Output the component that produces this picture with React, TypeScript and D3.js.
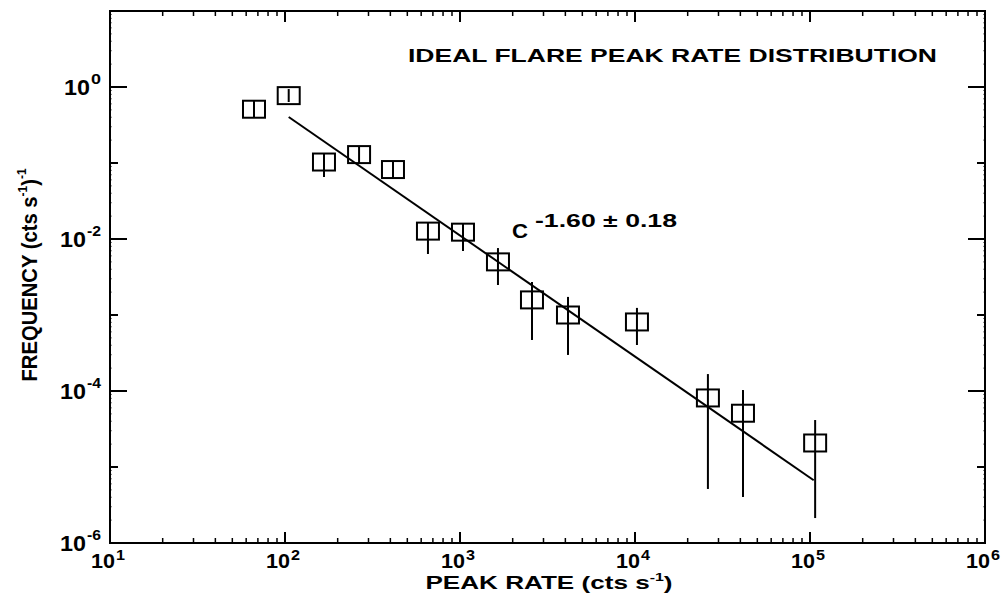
import React from "react";
import * as d3 from "d3";

const peakRate = [66.5, 105, 167, 265, 414, 656, 1040, 1648, 2578, 4140, 10260, 26100, 41400, 107000];
const frequency = [0.51, 0.77, 0.103, 0.129, 0.082, 0.0127, 0.0123, 0.005, 0.00158, 0.001, 0.00081, 8.1e-5, 5.1e-5, 2.07e-5];
const errHigh = [0.674, 0.94, 0.135, 0.167, 0.106, 0.0167, 0.01625, 0.0076, 0.00272, 0.00173, 0.00124, 0.000167, 0.000103, 4.15e-5];
const errLow = [0.391, 0.635, 0.0654, 0.1, 0.0635, 0.00635, 0.00695, 0.00248, 0.000469, 0.000298, 0.000403, 5.14e-6, 4.03e-6, 2.13e-6];

const fitX = [105, 105000];
const fitY = [0.403, 6.7e-6];

const xDecades = [1, 2, 3, 4, 5, 6];
const yDecades = [-6, -5, -4, -3, -2, -1, 0, 1];
const yLabelExps = [0, -2, -4, -6];

const W = 1007, H = 597;
const L = 110, R = 985, T = 11, B = 543;
const FONT = "'Liberation Sans', Arial, Helvetica, sans-serif";

export default function App() {
  const x = d3.scaleLog().domain([10, 1e6]).range([L, R]);
  const y = d3.scaleLog().domain([1e-6, 10]).range([B, T]);

  const xMinor: number[] = [];
  for (let e = 1; e < 6; e++) for (let m = 2; m <= 9; m++) xMinor.push(m * Math.pow(10, e));
  const yMinor: number[] = [];
  for (let e = -6; e < 1; e++) for (let m = 2; m <= 9; m++) yMinor.push(m * Math.pow(10, e));

  const line = d3.line<number>().x((d, i) => x(fitX[i])).y((d, i) => y(fitY[i]));
  const bw = 22, bh = 17;

  return (
    <svg width={W} height={H} style={{ position: "absolute", left: 0, top: 0, background: "#fff" }} fontFamily={FONT} fontWeight="bold">
      <rect x={0} y={0} width={W} height={H} fill="#fff" />
      {/* frame */}
      <rect x={L} y={T} width={R - L} height={B - T} fill="none" stroke="#000" strokeWidth={2} />
      {/* x ticks */}
      {xDecades.map((e) => {
        const px = x(Math.pow(10, e));
        return (
          <g key={"xd" + e}>
            <line x1={px} x2={px} y1={B} y2={B - 11} stroke="#000" strokeWidth={2} />
            <line x1={px} x2={px} y1={T} y2={T + 11} stroke="#000" strokeWidth={2} />
          </g>
        );
      })}
      {xMinor.map((v) => (
        <g key={"xm" + v}>
          <line x1={x(v)} x2={x(v)} y1={B} y2={B - 5} stroke="#000" strokeWidth={1.5} />
          <line x1={x(v)} x2={x(v)} y1={T} y2={T + 5} stroke="#000" strokeWidth={1.5} />
        </g>
      ))}
      {/* y ticks */}
      {yDecades.map((e) => {
        const py = y(Math.pow(10, e));
        const len = e % 2 === 0 ? 17 : 8;
        return (
          <g key={"yd" + e}>
            <line x1={L} x2={L + len} y1={py} y2={py} stroke="#000" strokeWidth={2} />
            <line x1={R} x2={R - len} y1={py} y2={py} stroke="#000" strokeWidth={2} />
          </g>
        );
      })}
      {yMinor.map((v) => (
        <g key={"ym" + v}>
          <line x1={L} x2={L + 2} y1={y(v)} y2={y(v)} stroke="#000" strokeWidth={1} opacity={0.5} />
          <line x1={R} x2={R - 2} y1={y(v)} y2={y(v)} stroke="#000" strokeWidth={1} opacity={0.5} />
        </g>
      ))}
      {/* x tick labels */}
      {xDecades.map((e) => {
        const px = x(Math.pow(10, e));
        return (
          <g key={"xl" + e}>
            <text x={px + 5} y={568} fontSize={21} textAnchor="end" textLength={24} lengthAdjust="spacingAndGlyphs">10</text>
            <text x={px + 6} y={560} fontSize={14} textLength={9} lengthAdjust="spacingAndGlyphs">{e}</text>
          </g>
        );
      })}
      {/* y tick labels */}
      {yLabelExps.map((e) => {
        const py = y(Math.pow(10, e));
        const supW = e === 0 ? 10 : 14;
        return (
          <g key={"yl" + e}>
            <text x={101 - supW - 1} y={py + 8} fontSize={22} textAnchor="end" textLength={26} lengthAdjust="spacingAndGlyphs">10</text>
            <text x={101} y={py - 3} fontSize={15} textAnchor="end" textLength={supW} lengthAdjust="spacingAndGlyphs">{String(e)}</text>
          </g>
        );
      })}
      {/* axis titles */}
      <g transform="translate(549,589) scale(1.45,1)">
        <text x={0} y={0} fontSize={18} textAnchor="middle">
          PEAK RATE (cts s<tspan fontSize={11} dy={-8}>-1</tspan><tspan dy={8}>)</tspan>
        </text>
      </g>
      <g transform="translate(37,275) rotate(-90) scale(0.92,1)">
        <text x={0} y={0} fontSize={22} textAnchor="middle">
          FREQUENCY (cts s<tspan fontSize={13} dy={-10}>-1</tspan><tspan dy={10}>)</tspan><tspan fontSize={13} dy={-11}>-1</tspan>
        </text>
      </g>
      {/* title */}
      <text x={408} y={62} fontSize={18} textLength={529} lengthAdjust="spacingAndGlyphs">
        IDEAL FLARE PEAK RATE DISTRIBUTION
      </text>
      {/* annotation */}
      <text x={512} y={238} fontSize={21} textLength={16} lengthAdjust="spacingAndGlyphs">C</text>
      <text x={535} y={227} fontSize={18} textLength={142} lengthAdjust="spacingAndGlyphs">-1.60 ± 0.18</text>
      {/* fit line */}
      <path d={line(fitX) || ""} fill="none" stroke="#000" strokeWidth={2} />
      {/* error bars */}
      {peakRate.map((r, i) => (
        <line key={"e" + i} x1={x(r)} x2={x(r)} y1={y(errHigh[i])} y2={y(errLow[i])} stroke="#000" strokeWidth={2} />
      ))}
      {/* boxes */}
      {peakRate.map((r, i) => (
        <rect key={"b" + i} x={x(r) - bw / 2} y={y(frequency[i]) - bh / 2} width={bw} height={bh} fill="none" stroke="#000" strokeWidth={2} />
      ))}
    </svg>
  );
}
